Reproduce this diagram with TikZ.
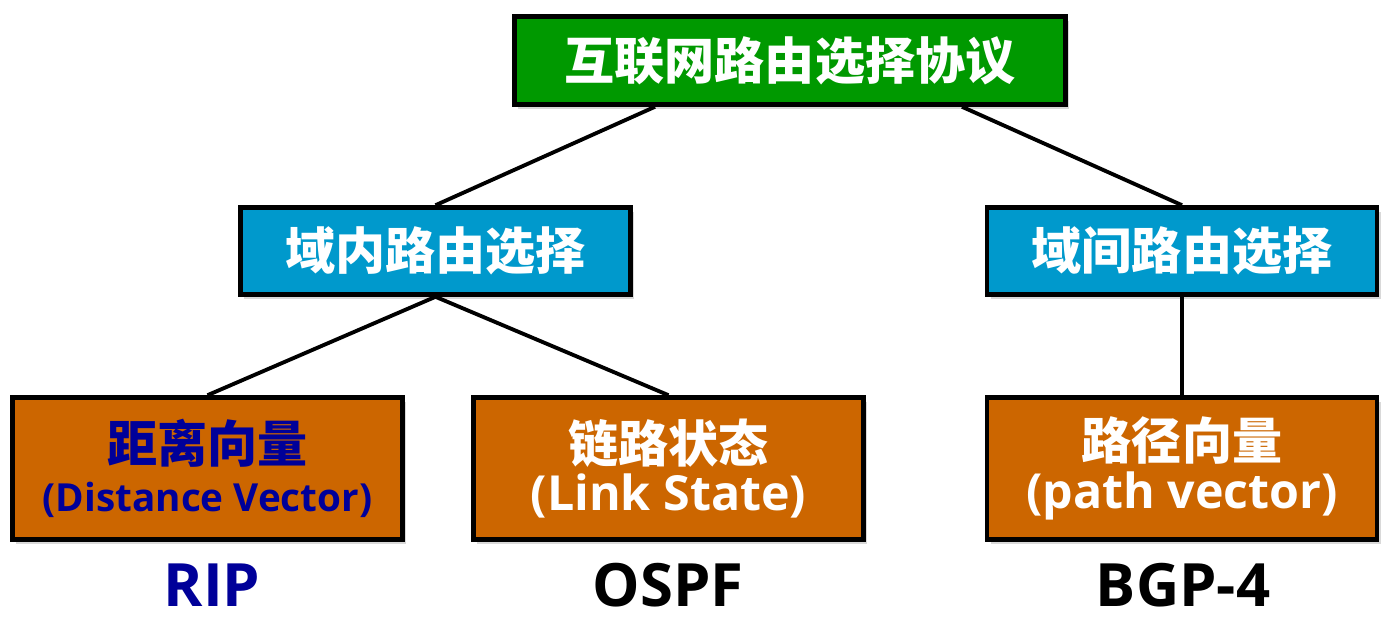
\documentclass[tikz,border=0pt]{standalone}
\usepackage{fontspec}
\setmainfont{Open Sans}
\newfontfamily\cjk{Noto Sans CJK SC}
\usetikzlibrary{shadows}
\definecolor{rootgreen}{RGB}{0,153,0}
\definecolor{areablue}{RGB}{0,153,204}
\definecolor{algorange}{RGB}{204,102,0}
\definecolor{ripblue}{RGB}{0,0,153}
\newcommand{\zh}[1]{{\fontsize{28.5}{30}\selectfont\cjk\bfseries #1}}
\tikzset{
  box/.style={draw=black, line width=2.6pt, text=white, align=center, inner sep=0pt,
    font=\fontsize{28}{27.5}\selectfont\bfseries,
    drop shadow={shadow xshift=2pt, shadow yshift=-2.5pt, opacity=0.3}},
  rootbox/.style={box, fill=rootgreen, minimum width=11.02cm, minimum height=1.76cm},
  areabox/.style={box, fill=areablue, minimum width=7.8cm, minimum height=1.74cm},
  algbox/.style={box, fill=algorange, minimum width=7.8cm, minimum height=2.84cm},
  proto/.style={font=\fontsize{34}{36}\selectfont\bfseries},
  link/.style={line width=2.2pt}
}

\begin{document}
\begin{tikzpicture}
  \useasboundingbox (0,0) rectangle (27.84,12.44);
  % routing protocols (root)
  \node[rootbox] (root) at (15.8,11.23) {\zh{互联网路由选择协议}};
  % intra / inter domain
  \node[areabox] (intra) at (8.71,7.42) {\zh{域内路由选择}};
  \node[areabox] (inter) at (23.64,7.42) {\zh{域间路由选择}};
  % algorithms
  \node[algbox, text=ripblue] (dv) at (4.15,3.07)
    {\zh{距离向量}\\{\fontsize{22}{24}\selectfont (Distance Vector)}};
  \node[algbox] (ls) at (13.37,3.07)
    {\zh{链路状态}\\{\fontsize{27.5}{29}\selectfont (Link State)}};
  \node[algbox] (pv) at (23.64,3.07)
    {\zh{路径向量}\\{\fontsize{27.5}{29}\selectfont (path vector)}};
  % protocols
  \node[proto, text=ripblue] (rip) at (4.24,0.74) {RIP};
  \node[proto] (ospf) at (13.36,0.74) {OSPF};
  \node[proto] (bgp) at (23.66,0.74) {BGP-4};
  % lines between levels
  \draw[link] ([xshift=-2.7cm]root.south) -- (intra.north);
  \draw[link] ([xshift=3.44cm]root.south) -- (inter.north);
  \draw[link] (intra.south) -- (dv.north);
  \draw[link] (intra.south) -- (ls.north);
  \draw[link] (inter.south) -- (pv.north);
\end{tikzpicture}
\end{document}
